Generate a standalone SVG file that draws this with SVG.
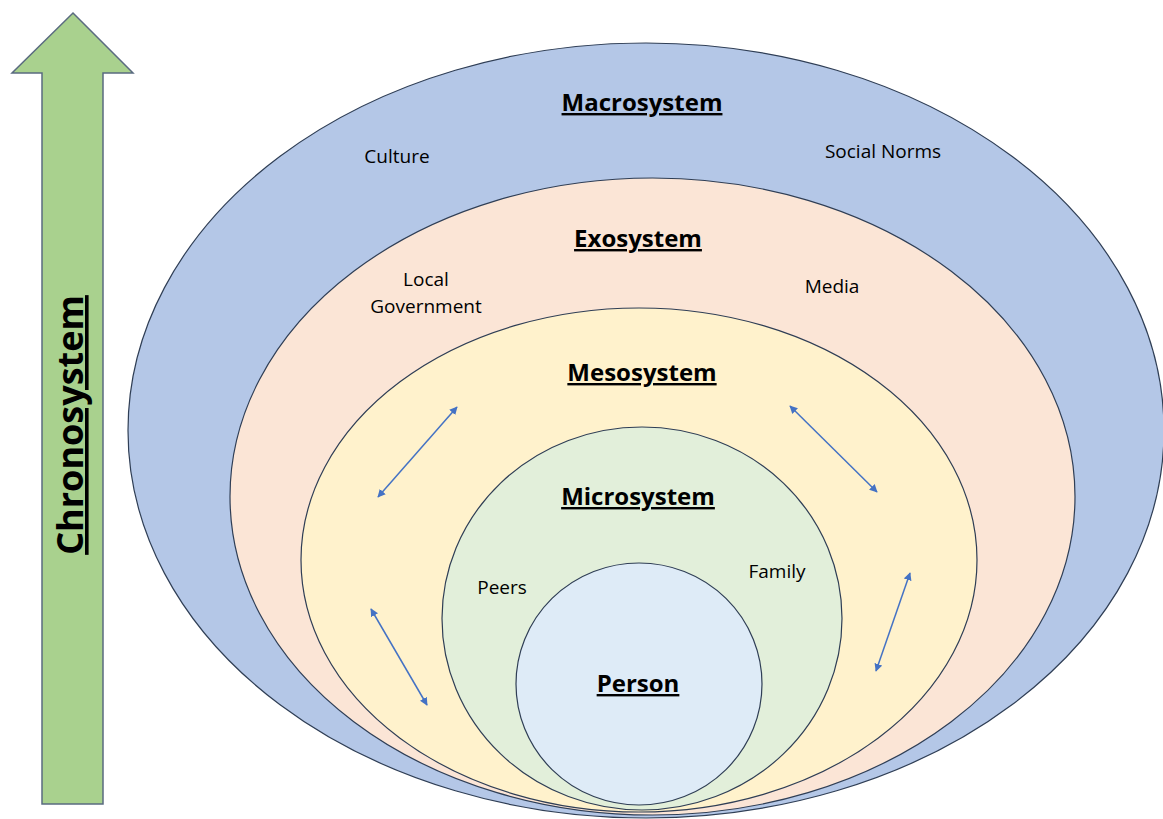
<svg xmlns="http://www.w3.org/2000/svg" width="1163" height="819" viewBox="0 0 1163 819">
<style>
.ring{stroke:#2f3e55;stroke-width:1.2}
.title{font-family:"Open Sans","Liberation Sans",sans-serif;font-weight:bold;font-size:24px;text-decoration:underline;fill:#000}
.lbl{font-family:"Open Sans","Liberation Sans",sans-serif;font-size:19px;fill:#000}
.conn{stroke:#4472c4;stroke-width:1.5;fill:none;marker-start:url(#ah);marker-end:url(#ah)}
</style>
<defs>
<marker id="ah" viewBox="0 0 10 10" refX="9" refY="5" markerWidth="8" markerHeight="8" markerUnits="userSpaceOnUse" orient="auto-start-reverse">
<path d="M0,0 L10,5 L0,10 z" fill="#4472c4"/>
</marker>
</defs>
<rect width="1163" height="819" fill="#fff"/>
<g id="chronosystem">
<polygon points="73,13 133,73 103,73 103,804 42,804 42,73 12,73" fill="#a9d18e" stroke="#5a6b80" stroke-width="1.5"/>
<text class="title" transform="translate(83,425) rotate(-90)" text-anchor="middle" style="font-size:36px">Chronosystem</text>
</g>
<g id="macrosystem">
<ellipse class="ring" cx="646" cy="430.5" rx="518" ry="387.5" fill="#b4c7e7"/>
<text class="title" x="642" y="111" text-anchor="middle">Macrosystem</text>
<text class="lbl" x="397" y="163" text-anchor="middle">Culture</text>
<text class="lbl" x="883" y="158" text-anchor="middle">Social Norms</text>
</g>
<g id="exosystem">
<ellipse class="ring" cx="652.5" cy="496.5" rx="422.5" ry="318.5" fill="#fbe5d6"/>
<text class="title" x="638" y="247" text-anchor="middle">Exosystem</text>
<text class="lbl" x="426" y="286" text-anchor="middle">Local</text>
<text class="lbl" x="426" y="313" text-anchor="middle">Government</text>
<text class="lbl" x="832" y="293" text-anchor="middle">Media</text>
</g>
<g id="mesosystem">
<ellipse class="ring" cx="639" cy="560" rx="338" ry="252" fill="#fff2cc"/>
<text class="title" x="642" y="381" text-anchor="middle">Mesosystem</text>
</g>
<g id="microsystem">
<ellipse class="ring" cx="642" cy="618.5" rx="200" ry="191.5" fill="#e2efda"/>
<text class="title" x="638" y="505" text-anchor="middle">Microsystem</text>
<text class="lbl" x="502" y="594" text-anchor="middle">Peers</text>
<text class="lbl" x="777" y="578" text-anchor="middle">Family</text>
</g>
<g id="person">
<ellipse class="ring" cx="639" cy="684" rx="123" ry="121" fill="#deebf7"/>
<text class="title" x="638" y="692" text-anchor="middle">Person</text>
</g>
<g id="connectors">
<line class="conn" x1="378" y1="497" x2="457" y2="407"/>
<line class="conn" x1="371" y1="609" x2="427" y2="705"/>
<line class="conn" x1="790" y1="406" x2="877" y2="492"/>
<line class="conn" x1="876" y1="671" x2="910" y2="573"/>
</g>
</svg>
